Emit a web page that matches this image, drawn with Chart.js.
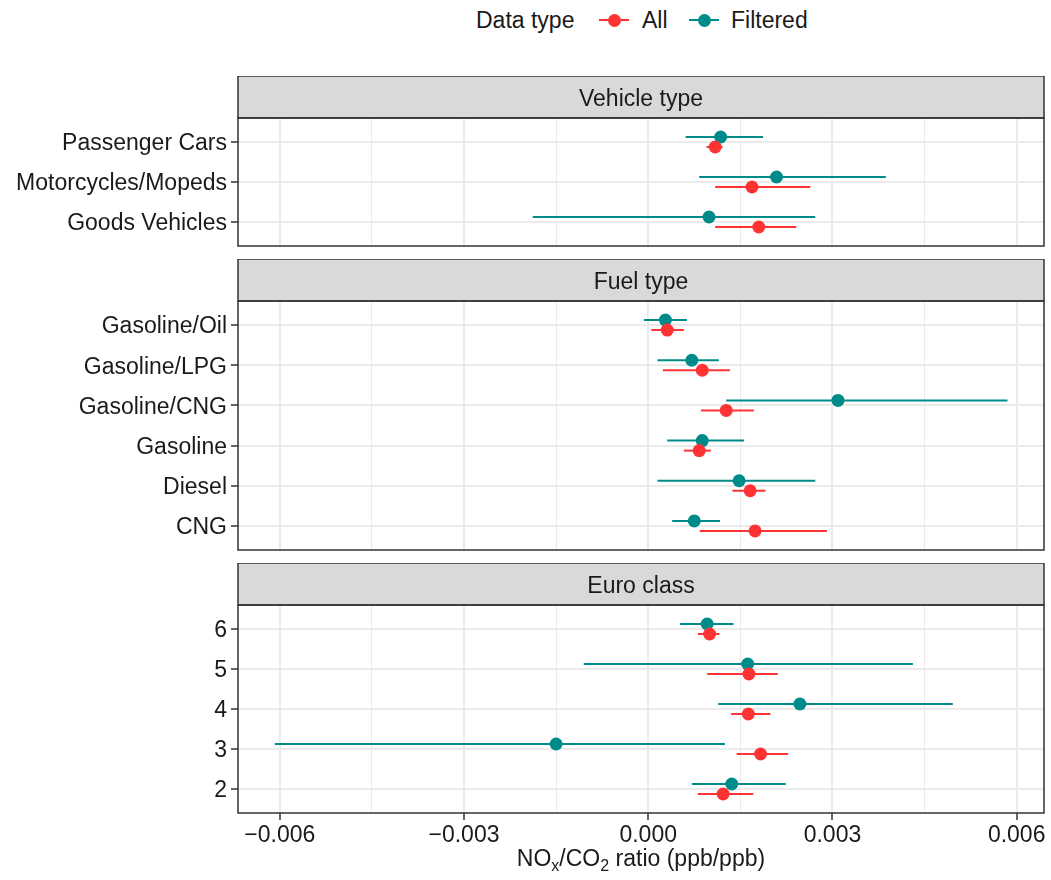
<!DOCTYPE html>
<html>
<head>
<meta charset="utf-8">
<title>NOx/CO2 ratio by group</title>
<script src="https://cdn.jsdelivr.net/npm/chart.js@4.4.1/dist/chart.umd.min.js"></script>
<style>
  body {
    margin: 0;
    width: 1051px;
    height: 880px;
    background: #fff;
    position: relative;
    overflow: hidden;
    font-family: "Liberation Sans", Arial, sans-serif;
    color: #1a1a1a;
  }
  .panel { position: absolute; left: 0; }
  #legend { position: absolute; left: 0; top: 0; width: 1051px; height: 40px; font-size: 23px; }
  #legend span { position: absolute; }
  #legend .txt { top: 7px; line-height: 26px; }
  #legend .line { top: 19px; width: 30px; height: 2px; }
  #legend .dot { top: 13.5px; width: 13px; height: 13px; border-radius: 50%; }
  #xtitle {
    position: absolute;
    left: 238px;
    width: 806px;
    top: 845px;
    text-align: center;
    font-size: 23px;
  }
  #xtitle sub { font-size: 16px; vertical-align: -5px; line-height: 0; }
</style>
</head>
<body>
<div id="legend"></div>
<div class="panel" style="top:76px"><canvas id="c1" width="1051" height="190"></canvas></div>
<div class="panel" style="top:259px"><canvas id="c2" width="1051" height="311"></canvas></div>
<div class="panel" style="top:563px"><canvas id="c3" width="1051" height="290"></canvas></div>
<div id="xtitle">NO<sub>x</sub>/CO<sub>2</sub> ratio (ppb/ppb)</div>

<script>
"use strict";

// series
const seriesNames = ["All", "Filtered"];
const seriesColors = ["#FF3333", "#008B8B"];
const legendTitle = "Data type";

// x axis
const xMajorTicks = [-0.006, -0.003, 0, 0.003, 0.006];
const xTickLabels = ["\u22120.006", "\u22120.003", "0.000", "0.003", "0.006"];
const xMinorTicks = [-0.0045, -0.0015, 0.0015, 0.0045];
const xMin = -0.00668;
const xMax = 0.006445;

// Vehicle type
const vehicleLabels = ["Passenger Cars", "Motorcycles/Mopeds", "Goods Vehicles"];
const vehicleAll = [0.00109, 0.00169, 0.0018];
const vehicleAllLow = [0.00095, 0.00109, 0.00109];
const vehicleAllHigh = [0.00121, 0.00264, 0.00241];
const vehicleFilt = [0.00118, 0.00209, 0.00099];
const vehicleFiltLow = [0.00061, 0.00083, -0.00188];
const vehicleFiltHigh = [0.00187, 0.00387, 0.00272];

// Fuel type
const fuelLabels = ["Gasoline/Oil", "Gasoline/LPG", "Gasoline/CNG", "Gasoline", "Diesel", "CNG"];
const fuelAll = [0.00031, 0.00088, 0.00127, 0.00083, 0.00166, 0.00174];
const fuelAllLow = [0.00005, 0.00024, 0.00086, 0.00058, 0.00137, 0.00084];
const fuelAllHigh = [0.00058, 0.00133, 0.00172, 0.00102, 0.00191, 0.00291];
const fuelFilt = [0.00028, 0.00071, 0.00309, 0.00088, 0.00148, 0.00075];
const fuelFiltLow = [-0.00007, 0.00015, 0.00127, 0.00031, 0.00015, 0.00039];
const fuelFiltHigh = [0.00063, 0.00115, 0.00585, 0.00156, 0.00272, 0.00117];

// Euro class
const euroLabels = ["6", "5", "4", "3", "2"];
const euroAll = [0.001, 0.00164, 0.00163, 0.00183, 0.00122];
const euroAllLow = [0.00081, 0.00096, 0.00135, 0.00144, 0.00081];
const euroAllHigh = [0.00116, 0.00211, 0.00199, 0.00228, 0.00171];
const euroFilt = [0.00096, 0.00162, 0.00247, -0.0015, 0.00136];
const euroFiltLow = [0.00052, -0.00105, 0.00114, -0.00608, 0.00071];
const euroFiltHigh = [0.00139, 0.00431, 0.00496, 0.00125, 0.00224];

const dodge = 0.125;
const fontFamily = '"Liberation Sans", Arial, sans-serif';
const fontSize = 23;

Chart.defaults.font.family = fontFamily;
Chart.defaults.font.size = fontSize;
Chart.defaults.color = "#1a1a1a";

function isMajor(v) {
  return xMajorTicks.some((m) => Math.abs(m - v) < 1e-9);
}

// horizontal whiskers, drawn under all points
const errorBars = {
  id: "errorBars",
  beforeDatasetsDraw(chart) {
    const { ctx } = chart;
    const xs = chart.scales.x;
    const ys = chart.scales.y;
    ctx.save();
    ctx.lineWidth = 2;
    chart.data.datasets.forEach((ds) => {
      ctx.strokeStyle = ds.backgroundColor;
      ds.data.forEach((d) => {
        const py = ys.getPixelForValue(d.y);
        ctx.beginPath();
        ctx.moveTo(xs.getPixelForValue(d.xMin), py);
        ctx.lineTo(xs.getPixelForValue(d.xMax), py);
        ctx.stroke();
      });
    });
    ctx.restore();
  },
};

// strip on top + panel border
const panelFrame = {
  id: "panelFrame",
  afterDraw(chart, args, opts) {
    const { ctx, chartArea: a } = chart;
    const h = 42;
    ctx.save();
    ctx.fillStyle = "#D9D9D9";
    ctx.fillRect(a.left, a.top - h, a.right - a.left, h);
    ctx.strokeStyle = "#333333";
    ctx.lineWidth = 1.5;
    ctx.strokeRect(a.left, a.top - h, a.right - a.left, h);
    ctx.strokeRect(a.left, a.top, a.right - a.left, a.bottom - a.top);
    ctx.fillStyle = "#1a1a1a";
    ctx.font = fontSize + "px " + fontFamily;
    ctx.textAlign = "center";
    ctx.textBaseline = "middle";
    ctx.fillText(opts.title, (a.left + a.right) / 2, a.top - h / 2 + 3);
    ctx.restore();
  },
};

function points(est, low, high, offset) {
  return est.map((v, i) => ({ x: v, y: i + offset, xMin: low[i], xMax: high[i] }));
}

function makePanel(id, title, labels, all, allLow, allHigh, filt, filtLow, filtHigh, showX) {
  return new Chart(document.getElementById(id), {
    type: "scatter",
    data: {
      datasets: [
        {
          label: seriesNames[0],
          data: points(all, allLow, allHigh, dodge),
          backgroundColor: seriesColors[0],
          borderWidth: 0,
          pointRadius: 6.5,
          pointHoverRadius: 6.5,
        },
        {
          label: seriesNames[1],
          data: points(filt, filtLow, filtHigh, -dodge),
          backgroundColor: seriesColors[1],
          borderWidth: 0,
          pointRadius: 6.5,
          pointHoverRadius: 6.5,
        },
      ],
    },
    options: {
      responsive: false,
      animation: false,
      events: [],
      layout: { padding: { top: 42, right: 7, left: 0, bottom: 0 } },
      scales: {
        x: {
          type: "linear",
          min: xMin,
          max: xMax,
          afterBuildTicks: (s) => {
            s.ticks = xMajorTicks.concat(xMinorTicks).sort((a, b) => a - b).map((v) => ({ value: v }));
          },
          afterFit: (s) => {
            s.height = showX ? 40 : 20;
          },
          border: { display: false },
          grid: {
            color: "#EBEBEB",
            lineWidth: (c) => (c.tick && isMajor(c.tick.value) ? 2 : 1),
            drawTicks: showX,
            tickLength: 7,
            tickWidth: 1.5,
            tickColor: (c) => (c.tick && isMajor(c.tick.value) ? "#333333" : "rgba(0,0,0,0)"),
          },
          ticks: {
            display: showX,
            autoSkip: false,
            maxRotation: 0,
            padding: 2,
            color: "#1a1a1a",
            callback: (v) => {
              const i = xMajorTicks.findIndex((m) => Math.abs(m - v) < 1e-9);
              return i >= 0 ? xTickLabels[i] : "";
            },
          },
        },
        y: {
          type: "linear",
          reverse: true,
          min: -0.6,
          max: labels.length - 0.4,
          afterBuildTicks: (s) => {
            s.ticks = labels.map((_, i) => ({ value: i }));
          },
          afterFit: (s) => {
            s.width = 238;
          },
          border: { display: false },
          grid: {
            color: "#EBEBEB",
            lineWidth: 2,
            tickLength: 7,
            tickWidth: 1.5,
            tickColor: "#333333",
          },
          ticks: {
            autoSkip: false,
            padding: 4,
            labelOffset: 2,
            color: "#1a1a1a",
            callback: (v) => labels[v],
          },
        },
      },
      plugins: {
        legend: { display: false },
        tooltip: { enabled: false },
        panelFrame: { title: title },
      },
    },
    plugins: [errorBars, panelFrame],
  });
}

makePanel("c1", "Vehicle type", vehicleLabels, vehicleAll, vehicleAllLow, vehicleAllHigh,
  vehicleFilt, vehicleFiltLow, vehicleFiltHigh, false);
makePanel("c2", "Fuel type", fuelLabels, fuelAll, fuelAllLow, fuelAllHigh,
  fuelFilt, fuelFiltLow, fuelFiltHigh, false);
makePanel("c3", "Euro class", euroLabels, euroAll, euroAllLow, euroAllHigh,
  euroFilt, euroFiltLow, euroFiltHigh, true);

// legend: title, then a key (line + dot) and label per series
const keyCenters = [614, 704];
const labelLefts = [642, 731];
const legend = document.getElementById("legend");
let html = '<span class="txt" style="left:476px">' + legendTitle + "</span>";
seriesNames.forEach((n, i) => {
  html += '<span class="line" style="left:' + (keyCenters[i] - 15) + "px;background:" + seriesColors[i] + '"></span>';
  html += '<span class="dot" style="left:' + (keyCenters[i] - 6.5) + "px;background:" + seriesColors[i] + '"></span>';
  html += '<span class="txt" style="left:' + labelLefts[i] + 'px">' + n + "</span>";
});
legend.innerHTML = html;
</script>
</body>
</html>
